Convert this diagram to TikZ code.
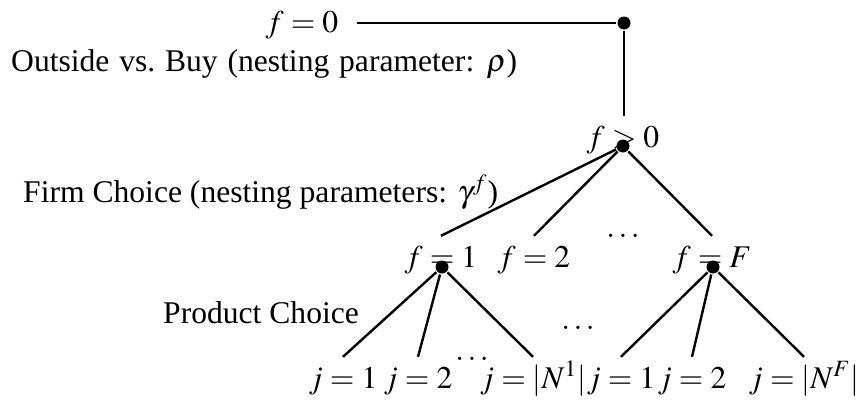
\documentclass[tikz,border=0pt]{standalone}
\usepackage{mathptmx}
\usepackage[no-math]{fontspec}
\setmainfont{Liberation Serif}
\newcommand\widespaces{\spaceskip=0.31em\relax}
\begin{document}
\begin{tikzpicture}[x=0.5pt,y=-0.5pt,
  font=\fontsize{15.8}{19}\selectfont,
  line width=1.2pt,
  dot/.style={circle,fill=black,inner sep=0pt,minimum size=6.5pt},
  lbl/.style={anchor=base,inner sep=5pt,text height=10pt},
  txt/.style={anchor=base west,inner sep=0pt},
  ell/.style={anchor=base,inner sep=0pt}]
\useasboundingbox (0,0) rectangle (859,413);
% texts
\node[txt] (outside) at (10,71) {\widespaces Outside vs.\ Buy (nesting parameter: $\rho$)};
\node[txt] (firm) at (22,202) {Firm Choice (nesting parameters: $\gamma^f$)};
\node[txt] (prod) at (162,323) {Product Choice};
% labels
\node[lbl] (f0) at (302,32) {$f=0$};
\node[lbl] (fp) at (623,147) {$f>0$};
\node[lbl] (f1) at (441,267) {$f=1$};
\node[lbl] (f2) at (534,267) {$f=2$};
\node[lbl] (fF) at (712,267) {$f=F$};
\node[lbl] (a1) at (343,388) {$j=1$};
\node[lbl] (a2) at (418,388) {$j=2$};
\node[lbl] (aN) at (533,388) {$j=|N^1|$};
\node[lbl] (b1) at (621,388) {$j=1$};
\node[lbl] (b2) at (692,388) {$j=2$};
\node[lbl] (bN) at (804,388) {$j=|N^F|$};
\node[ell] (e1) at (623,237) {$\dots$};
\node[ell] (e2) at (472,360) {$\dots$};
\node[ell] (e3) at (578,329) {$\dots$};
% dots
\node[dot] (d0) at (624,23) {};
\node[dot] (dp) at (623,146) {};
\node[dot] (d1) at (442,267) {};
\node[dot] (dF) at (713,267) {};
% edges
\draw ([xshift=4pt]f0.east |- d0) -- (d0);
\draw (d0) -- (d0 |- fp.north);
\draw (dp) -- (f1.north);
\draw (dp) -- (f2.north);
\draw (dp) -- (fF.north);
\draw (d1) -- (a1.north);
\draw (d1) -- (a2.north);
\draw (d1) -- (aN.north);
\draw (dF) -- (b1.north);
\draw (dF) -- (b2.north);
\draw (dF) -- (bN.north);
\end{tikzpicture}
\end{document}
